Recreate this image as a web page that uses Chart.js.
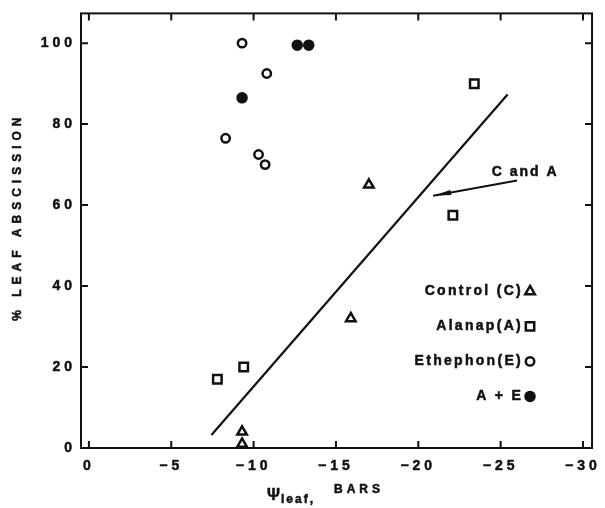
<!DOCTYPE html>
<html>
<head>
<meta charset="utf-8">
<script src="https://cdn.jsdelivr.net/npm/chart.js@4.4.0/dist/chart.umd.min.js"></script>
<style>
  html, body { margin: 0; padding: 0; background: #fff; }
  canvas { display: block; }
</style>
</head>
<body>
<canvas id="abscission" width="605" height="508"></canvas>
<script>
// leaf water potential (bars) vs % leaf abscission
const controlX = [-9.3, -9.3, -15.9, -17.0];
const controlY = [1, 4, 32, 65];
const alanapX = [-7.8, -9.4, -22.1, -23.4];
const alanapY = [17, 20, 57.5, 90];
const ethephonX = [-9.3, -10.8, -8.3, -10.3, -10.7];
const ethephonY = [100, 92.5, 76.5, 72.5, 70];
const aeX = [-9.3, -12.65, -13.35];
const aeY = [86.5, 99.5, 99.5];

// regression line for C and A
const fitX = [-7.44, -25.42];
const fitY = [3.2, 87.3];

const arrowX = [-26.0, -20.9];
const arrowY = [66.1, 62.3];
const arrowText = 'C and A';

const seriesNames = ['Control (C)', 'Alanap(A)', 'Ethephon(E)', 'A + E'];
const xTicks = [0, -5, -10, -15, -20, -25, -30];
const yTicks = [0, 20, 40, 60, 80, 100];

const ink = '#111';
const family = "'Liberation Sans', Arial, sans-serif";
const pairs = (xs, ys) => xs.map((x, i) => ({ x: x, y: ys[i] }));

function tickText(v) {
    return v < 0 ? '\u2212' + Math.abs(v) : String(v);
}

// heavy text, like the old lettering
function heavyText(ctx, text, x, y) {
    ctx.fillText(text, x, y);
    ctx.strokeText(text, x, y);
}

function marker(ctx, style, filled, x, y) {
    ctx.save();
    ctx.lineWidth = filled ? 1.5 : 2.5;
    ctx.strokeStyle = ink;
    ctx.fillStyle = ink;
    ctx.beginPath();
    if (style === 'triangle') {
        const r = 5.5;
        ctx.moveTo(x, y - r);
        ctx.lineTo(x + r * 0.866, y + r / 2);
        ctx.lineTo(x - r * 0.866, y + r / 2);
        ctx.closePath();
    } else if (style === 'rect') {
        const s = 4.2;
        ctx.rect(x - s, y - s, 2 * s, 2 * s);
    } else {
        ctx.arc(x, y, filled ? 5 : 4.2, 0, Math.PI * 2);
    }
    if (filled) ctx.fill();
    ctx.stroke();
    ctx.restore();
}

const framePlugin = {
    id: 'frame',
    beforeDraw(chart) {
        chart.ctx.letterSpacing = '4px';
    },
    afterDraw(chart) {
        const ctx = chart.ctx;
        const a = chart.chartArea;
        const xs = chart.scales.x;
        const ys = chart.scales.y;
        ctx.save();
        ctx.strokeStyle = ink;
        ctx.fillStyle = ink;
        ctx.lineWidth = 2;
        ctx.strokeRect(a.left, a.top, a.right - a.left, a.bottom - a.top);

        // inward tick marks on all four sides
        ctx.beginPath();
        xTicks.forEach(v => {
            const px = xs.getPixelForValue(v);
            ctx.moveTo(px, a.bottom); ctx.lineTo(px, a.bottom - 7);
            ctx.moveTo(px, a.top); ctx.lineTo(px, a.top + 7);
        });
        yTicks.forEach(v => {
            const py = ys.getPixelForValue(v);
            ctx.moveTo(a.left, py); ctx.lineTo(a.left + 7, py);
            ctx.moveTo(a.right, py); ctx.lineTo(a.right - 7, py);
        });
        ctx.stroke();

        // arrow to the fitted line
        const x0 = xs.getPixelForValue(arrowX[0]), y0 = ys.getPixelForValue(arrowY[0]);
        const x1 = xs.getPixelForValue(arrowX[1]), y1 = ys.getPixelForValue(arrowY[1]);
        ctx.beginPath();
        ctx.moveTo(x0, y0);
        ctx.lineTo(x1, y1);
        ctx.stroke();
        const ang = Math.atan2(y1 - y0, x1 - x0);
        ctx.beginPath();
        ctx.moveTo(x1, y1);
        ctx.lineTo(x1 - 18 * Math.cos(ang) + 2.5 * Math.sin(ang), y1 - 18 * Math.sin(ang) - 2.5 * Math.cos(ang));
        ctx.lineTo(x1 - 18 * Math.cos(ang) - 2.5 * Math.sin(ang), y1 - 18 * Math.sin(ang) + 2.5 * Math.cos(ang));
        ctx.closePath();
        ctx.fill();

        ctx.lineWidth = 0.5;
        ctx.font = 'bold 14px ' + family;
        ctx.letterSpacing = '2px';
        ctx.textAlign = 'center';
        ctx.textBaseline = 'middle';
        heavyText(ctx, arrowText, x0 + 8, y0 - 8);

        // legend, right side
        const styles = ['triangle', 'rect', 'circle', 'circle'];
        ctx.textAlign = 'right';
        ctx.letterSpacing = '2.3px';
        seriesNames.forEach((name, i) => {
            const my = a.top + 278 + i * 35;
            const mx = a.right - 62;
            heavyText(ctx, name, mx - 7, my);
            marker(ctx, styles[i], i === 3, mx, my);
        });

        // y title
        ctx.save();
        ctx.translate(18, (a.top + a.bottom) / 2 - 12);
        ctx.rotate(-Math.PI / 2);
        ctx.textAlign = 'center';
        ctx.font = 'bold 12px ' + family;
        ctx.letterSpacing = '5px';
        heavyText(ctx, '% LEAF ABSCISSION', 2, 0);
        ctx.restore();

        // x title: psi leaf, BARS
        ctx.textAlign = 'left';
        ctx.textBaseline = 'alphabetic';
        ctx.letterSpacing = '0px';
        ctx.font = 'bold 16px ' + family;
        heavyText(ctx, '\u03A8', 267, 500);
        ctx.font = 'bold 12px ' + family;
        ctx.letterSpacing = '2px';
        heavyText(ctx, 'leaf,', 281, 503);
        ctx.font = 'bold 12px ' + family;
        ctx.letterSpacing = '4px';
        heavyText(ctx, 'BARS', 334, 493);
        ctx.restore();
    }
};

const tickFont = { family: family, size: 14, weight: 'bold' };

new Chart(document.getElementById('abscission'), {
    type: 'scatter',
    data: {
        datasets: [
            {
                label: seriesNames[0],
                data: pairs(controlX, controlY),
                pointStyle: 'triangle',
                pointRadius: 5.5,
                borderWidth: 2.5,
                borderColor: ink,
                backgroundColor: 'transparent'
            },
            {
                label: seriesNames[1],
                data: pairs(alanapX, alanapY),
                pointStyle: 'rect',
                pointRadius: 6,
                borderWidth: 2.5,
                borderColor: ink,
                backgroundColor: 'transparent'
            },
            {
                label: seriesNames[2],
                data: pairs(ethephonX, ethephonY),
                pointStyle: 'circle',
                pointRadius: 4.2,
                borderWidth: 2.5,
                borderColor: ink,
                backgroundColor: 'transparent'
            },
            {
                label: seriesNames[3],
                data: pairs(aeX, aeY),
                pointStyle: 'circle',
                pointRadius: 5,
                borderWidth: 1.5,
                borderColor: ink,
                backgroundColor: ink
            },
            {
                type: 'line',
                label: 'fit',
                data: pairs(fitX, fitY),
                showLine: true,
                pointRadius: 0,
                borderWidth: 2.2,
                borderColor: ink
            }
        ]
    },
    options: {
        responsive: false,
        animation: false,
        layout: { padding: { top: 10, right: 8, left: 0, bottom: 0 } },
        plugins: {
            legend: { display: false },
            tooltip: { enabled: false }
        },
        scales: {
            x: {
                type: 'linear',
                reverse: true,
                min: -30.55,
                max: 0.48,
                afterFit(s) { s.height = 60; },
                afterBuildTicks(s) { s.ticks = xTicks.map(v => ({ value: v })); },
                grid: { display: false, drawTicks: false },
                border: { display: false },
                ticks: {
                    callback: tickText, padding: 10, maxRotation: 0, autoSkip: false,
                    color: ink, font: tickFont, textStrokeColor: ink, textStrokeWidth: 0.5
                }
            },
            y: {
                min: 0,
                max: 107.35,
                afterFit(s) { s.width = 81; },
                afterBuildTicks(s) { s.ticks = yTicks.map(v => ({ value: v })); },
                grid: { display: false, drawTicks: false },
                border: { display: false },
                ticks: {
                    callback: tickText, padding: 5, autoSkip: false,
                    color: ink, font: tickFont, textStrokeColor: ink, textStrokeWidth: 0.5
                }
            }
        }
    },
    plugins: [framePlugin]
});
</script>
</body>
</html>
